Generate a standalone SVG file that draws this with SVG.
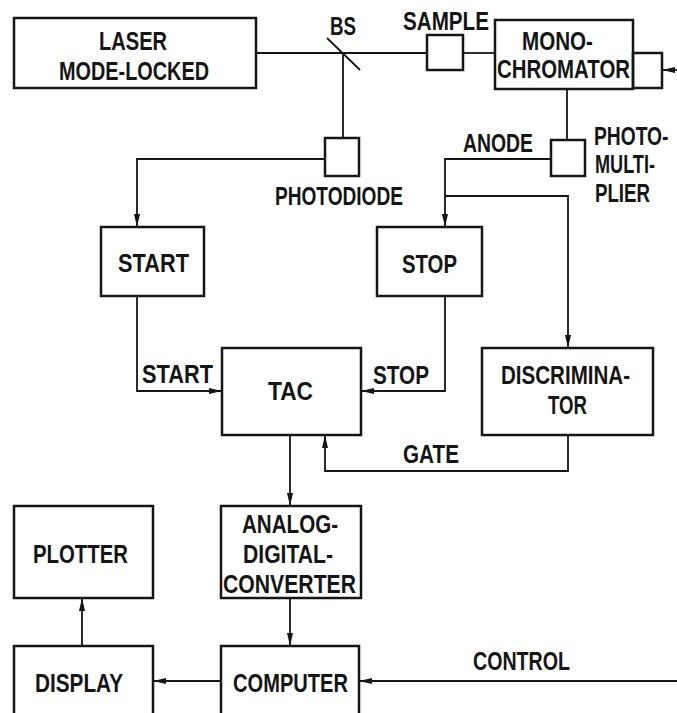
<svg xmlns="http://www.w3.org/2000/svg" width="677" height="713" viewBox="0 0 677 713">
<style>
.box{fill:none;stroke:#151515;stroke-width:2.5}
.ln{fill:none;stroke:#151515;stroke-width:1.8}
.arr{marker-end:url(#ah)}
text{font-family:"Liberation Sans Narrow","Liberation Sans",Arial,sans-serif;font-weight:bold;font-size:25px;fill:#151515}
</style>
<defs>
<marker id="ah" viewBox="0 0 13 6" refX="13" refY="3" markerWidth="13" markerHeight="6" markerUnits="userSpaceOnUse" orient="auto">
<path d="M0,0 L13,3 L0,6 z" fill="#151515"/>
</marker>
</defs>
<rect width="677" height="713" fill="#fff"/>
<g id="connectors">
<path class="ln" d="M256,53 H427"/>
<path class="ln" d="M463,53 H495"/>
<path class="ln" d="M343,53 V138"/>
<path class="ln" d="M327,38 L360,70" stroke-width="2.5"/>
<path class="ln" d="M567,89 V140"/>
<path class="ln arr" d="M677,70 H662"/>
<path class="ln arr" d="M325,159 H137 V227"/>
<path class="ln arr" d="M551,159 H445 V227"/>
<path class="ln arr" d="M445,196 H568 V348"/>
<path class="ln arr" d="M137,296 V391 H222"/>
<path class="ln arr" d="M445,296 V391 H361"/>
<path class="ln arr" d="M568,435 V471 H325 V435"/>
<path class="ln arr" d="M290,435 V506"/>
<path class="ln arr" d="M290,598 V646"/>
<path class="ln arr" d="M82,646 V598"/>
<path class="ln arr" d="M221,681 H153"/>
<path class="ln arr" d="M677,681 H359"/>
<text x="403" y="30" textLength="86" lengthAdjust="spacingAndGlyphs">SAMPLE</text>
<text x="330" y="35" font-size="22" textLength="26" lengthAdjust="spacingAndGlyphs">BS</text>
<text x="275" y="205" textLength="128" lengthAdjust="spacingAndGlyphs">PHOTODIODE</text>
<text x="463" y="152" textLength="70" lengthAdjust="spacingAndGlyphs">ANODE</text>
<text transform="matrix(0.77,0,0,1,594,145)">PHOTO-</text>
<text x="595" y="173" textLength="60" lengthAdjust="spacingAndGlyphs">MULTI-</text>
<text x="595" y="202" textLength="55" lengthAdjust="spacingAndGlyphs">PLIER</text>
<text x="142" y="383" textLength="71" lengthAdjust="spacingAndGlyphs">START</text>
<text x="373" y="384" textLength="56" lengthAdjust="spacingAndGlyphs">STOP</text>
<text x="403" y="463" textLength="56" lengthAdjust="spacingAndGlyphs">GATE</text>
<text x="473" y="670" textLength="97" lengthAdjust="spacingAndGlyphs">CONTROL</text>
</g>
<g id="laser">
<rect class="box" x="14" y="18" width="242" height="70"/>
<text x="99" y="50" textLength="68" lengthAdjust="spacingAndGlyphs">LASER</text>
<text x="59" y="80" textLength="150" lengthAdjust="spacingAndGlyphs">MODE-LOCKED</text>
</g>
<g id="sample"><rect class="box" x="427" y="35" width="36" height="35"/></g>
<g id="monochromator">
<rect class="box" x="495" y="20" width="138" height="69"/>
<text x="522" y="50" textLength="71" lengthAdjust="spacingAndGlyphs">MONO-</text>
<text x="497" y="78" textLength="133" lengthAdjust="spacingAndGlyphs">CHROMATOR</text>
</g>
<g id="mono-drive"><rect class="box" x="633" y="53" width="29" height="35"/></g>
<g id="photodiode"><rect class="box" x="325" y="138" width="34" height="38"/></g>
<g id="photomultiplier"><rect class="box" x="551" y="140" width="34" height="36"/></g>
<g id="start">
<rect class="box" x="101" y="227" width="103" height="69"/>
<text x="118" y="272" textLength="71" lengthAdjust="spacingAndGlyphs">START</text>
</g>
<g id="stop">
<rect class="box" x="377" y="227" width="105" height="69"/>
<text x="402" y="273" textLength="55" lengthAdjust="spacingAndGlyphs">STOP</text>
</g>
<g id="tac">
<rect class="box" x="222" y="348" width="139" height="87"/>
<text x="268" y="400" textLength="45" lengthAdjust="spacingAndGlyphs">TAC</text>
</g>
<g id="discriminator">
<rect class="box" x="482" y="348" width="171" height="87"/>
<text x="501" y="384" textLength="129" lengthAdjust="spacingAndGlyphs">DISCRIMINA-</text>
<text x="548" y="414" textLength="39" lengthAdjust="spacingAndGlyphs">TOR</text>
</g>
<g id="adc">
<rect class="box" x="221" y="506" width="140" height="92"/>
<text x="242" y="533" textLength="96" lengthAdjust="spacingAndGlyphs">ANALOG-</text>
<text x="243" y="563" textLength="90" lengthAdjust="spacingAndGlyphs">DIGITAL-</text>
<text x="223" y="593" textLength="133" lengthAdjust="spacingAndGlyphs">CONVERTER</text>
</g>
<g id="plotter">
<rect class="box" x="14" y="506" width="139" height="92"/>
<text x="33" y="563" textLength="95" lengthAdjust="spacingAndGlyphs">PLOTTER</text>
</g>
<g id="display">
<rect class="box" x="14" y="646" width="139" height="70"/>
<text x="35" y="692" textLength="88" lengthAdjust="spacingAndGlyphs">DISPLAY</text>
</g>
<g id="computer">
<rect class="box" x="221" y="646" width="138" height="70"/>
<text x="233" y="692" textLength="115" lengthAdjust="spacingAndGlyphs">COMPUTER</text>
</g>
</svg>
